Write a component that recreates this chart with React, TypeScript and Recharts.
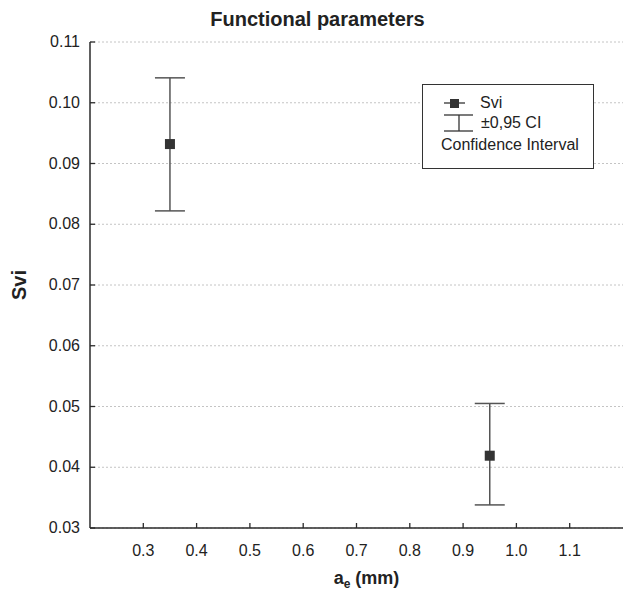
import React from 'react';
import {
  ScatterChart,
  Scatter,
  XAxis,
  YAxis,
  CartesianGrid,
  ErrorBar
} from 'recharts';

// depth of cut a_e (mm)
const aeValues = [0.35, 0.95];
// mean Svi at each a_e
const sviMeans = [0.0932, 0.0419];
// ±0,95 confidence interval bounds
const ciLower = [0.0822, 0.0338];
const ciUpper = [0.1041, 0.0505];

const xTicks = [0.3, 0.4, 0.5, 0.6, 0.7, 0.8, 0.9, 1.0, 1.1];
const yTicks = [0.03, 0.04, 0.05, 0.06, 0.07, 0.08, 0.09, 0.1, 0.11];

const FONT = '"Liberation Sans", Arial, Helvetica, sans-serif';
const AXIS = '#2b2b2b';

const data = aeValues.map((x, i) => ({
  x,
  y: sviMeans[i],
  err: [sviMeans[i] - ciLower[i], ciUpper[i] - sviMeans[i]]
}));

const BottomTick = (props: any) => {
  const { x, y, payload } = props;
  return (
    <g>
      <line x1={x} y1={y} x2={x} y2={y - 5} stroke={AXIS} strokeWidth={1.3} />
      <text x={x} y={y + 28} textAnchor="middle" fontSize={16} fontFamily={FONT} fill="#222">
        {payload.value.toFixed(1)}
      </text>
    </g>
  );
};

const TopTick = (props: any) => {
  const { x, y } = props;
  return <line x1={x} y1={y} x2={x} y2={y + 5} stroke={AXIS} strokeWidth={1.3} />;
};

const LeftTick = (props: any) => {
  const { x, y, payload } = props;
  return (
    <g>
      <line x1={x} y1={y} x2={x + 5} y2={y} stroke={AXIS} strokeWidth={1.3} />
      <text x={x - 10} y={y + 5} textAnchor="end" fontSize={16} fontFamily={FONT} fill="#222">
        {payload.value.toFixed(2)}
      </text>
    </g>
  );
};

const XLabel = (props: any) => {
  const { viewBox } = props;
  const cx = viewBox.x + viewBox.width / 2 + 10;
  return (
    <text x={cx} y={viewBox.y + 56} textAnchor="middle" fontSize={18} fontWeight="bold" fontFamily={FONT} fill="#222">
      a<tspan fontSize={12} dy={4}>e</tspan>
      <tspan dy={-4}> (mm)</tspan>
    </text>
  );
};

const YLabel = () => (
  <text
    x={26}
    y={285}
    transform="rotate(-90 26 285)"
    textAnchor="middle"
    fontSize={20}
    fontWeight="bold"
    fontFamily={FONT}
    fill="#222"
  >
    Svi
  </text>
);

const SquareMarker = (props: any) => {
  const { cx, cy } = props;
  return <rect x={cx - 5} y={cy - 5} width={10} height={10} fill="#333" />;
};

export default function App() {
  return (
    <div style={{ position: 'absolute', left: 0, top: 0, width: 623, height: 596, background: '#fff', fontFamily: FONT }}>
      <div
        style={{
          position: 'absolute',
          left: 6,
          width: 623,
          top: 8,
          textAlign: 'center',
          fontSize: 20,
          fontWeight: 'bold',
          color: '#222'
        }}
      >
        Functional parameters
      </div>
      <ScatterChart width={623} height={596} margin={{ top: 42, right: 0, left: 0, bottom: 0 }}>
        <CartesianGrid vertical={false} stroke="#c4c4c4" strokeDasharray="2 2" />
        <XAxis
          xAxisId="top"
          orientation="top"
          type="number"
          dataKey="x"
          domain={[0.2, 1.2]}
          ticks={xTicks}
          height={0}
          tickSize={0}
          tickMargin={0}
          tick={<TopTick />}
          axisLine={{ stroke: AXIS, strokeWidth: 1.5 }}
          allowDataOverflow
        />
        <XAxis
          type="number"
          dataKey="x"
          domain={[0.2, 1.2]}
          ticks={xTicks}
          height={68}
          tickSize={0}
          tickMargin={0}
          tick={<BottomTick />}
          axisLine={{ stroke: AXIS, strokeWidth: 1.5 }}
          label={<XLabel />}
          allowDataOverflow
        />
        <YAxis
          type="number"
          dataKey="y"
          domain={[0.03, 0.11]}
          ticks={yTicks}
          width={90}
          tickSize={0}
          tickMargin={0}
          tick={<LeftTick />}
          axisLine={{ stroke: AXIS, strokeWidth: 1.5 }}
          label={<YLabel />}
          allowDataOverflow
        />
        <Scatter data={data} shape={<SquareMarker />} isAnimationActive={false}>
          <ErrorBar dataKey="err" direction="y" width={15} stroke="#555" strokeWidth={1.5} />
        </Scatter>
      </ScatterChart>
      <div
        style={{
          position: 'absolute',
          left: 422,
          top: 84,
          width: 172,
          height: 85,
          border: '1.5px solid #333',
          background: '#fff',
          fontSize: 16,
          color: '#222',
          boxSizing: 'border-box'
        }}
      >
        <div style={{ position: 'absolute', left: 21, top: 9, display: 'flex', alignItems: 'center' }}>
          <svg width={22} height={12}>
            <line x1={0} y1={6} x2={21} y2={6} stroke="#333" strokeWidth={1.3} />
            <rect x={6} y={2} width={9} height={9} fill="#333" />
          </svg>
          <span style={{ marginLeft: 14 }}>Svi</span>
        </div>
        <div style={{ position: 'absolute', left: 21, top: 29, display: 'flex', alignItems: 'center' }}>
          <svg width={30} height={18}>
            <line x1={0} y1={1} x2={29} y2={1} stroke="#333" strokeWidth={1.3} />
            <line x1={15} y1={1} x2={15} y2={17} stroke="#333" strokeWidth={1.3} />
            <line x1={0} y1={17} x2={29} y2={17} stroke="#333" strokeWidth={1.3} />
          </svg>
          <span style={{ marginLeft: 7 }}>±0,95 CI</span>
        </div>
        <div style={{ position: 'absolute', left: 18, top: 51, whiteSpace: 'nowrap' }}>Confidence Interval</div>
      </div>
    </div>
  );
}
